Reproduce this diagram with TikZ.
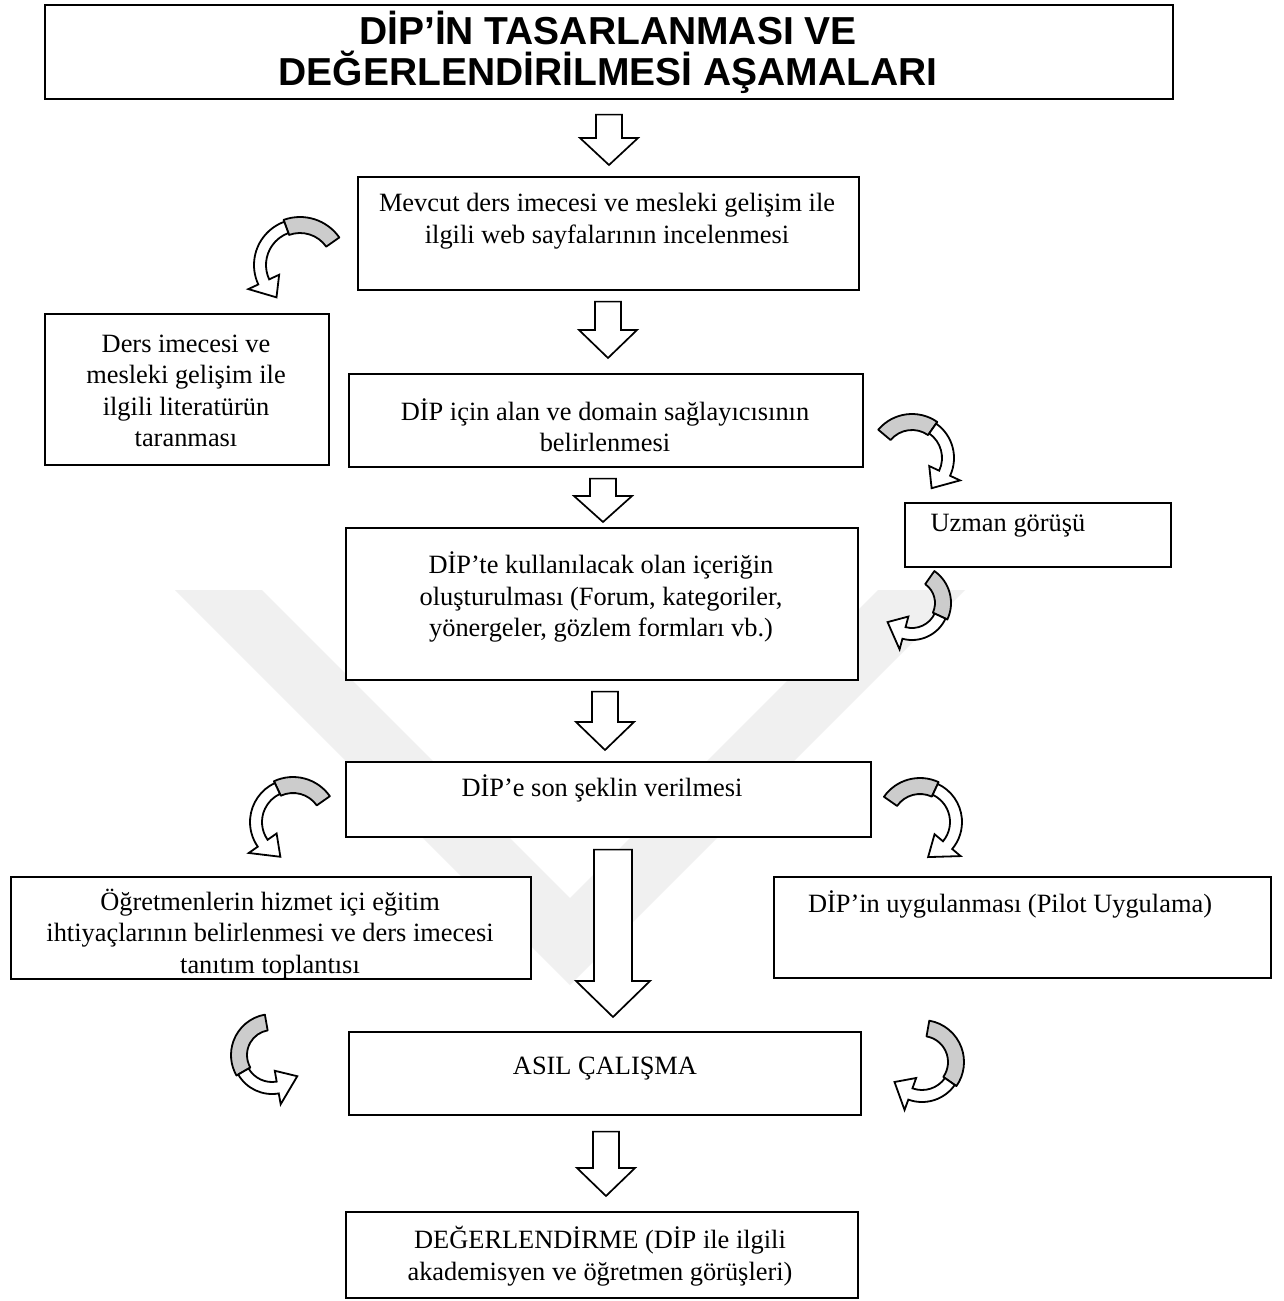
\documentclass[tikz,border=0pt]{standalone}
\usepackage{fontspec}
\setmainfont{Liberation Serif}
\newfontfamily\titlefont{Liberation Sans}
\usetikzlibrary{calc}
\tikzset{
  box/.style={draw, fill=white, line width=1.6pt, inner sep=0pt, anchor=north west},
  txt/.style={align=center, font=\fontsize{26.4}{31.5}\selectfont, inner sep=0pt},
  ttl/.style={align=center, font=\titlefont\bfseries\fontsize{39}{41}\selectfont, inner sep=0pt},
  blockarr/.style={draw, fill=white, line width=1.7pt, line join=miter},
  cgrey/.style={draw, fill=gray!40, line width=1.8pt, line join=round},
  cwhite/.style={draw, fill=white, line width=1.8pt, line join=miter},
  wmark/.style={fill=black!6},
}
% block arrow: from node, to node, x, gap top, gap bottom, shaft half width, head half width, head length
\newcommand{\barrow}[8]{%
  \draw[blockarr] let \p1=(#1.south), \p2=(#2.north) in
    ({(#3-#6)*1pt},{\y1-#4pt}) -- ({(#3+#6)*1pt},{\y1-#4pt}) --
    ({(#3+#6)*1pt},{\y2+#5pt+#8pt}) -- ({(#3+#7)*1pt},{\y2+#5pt+#8pt}) --
    ({#3*1pt},{\y2+#5pt}) --
    ({(#3-#7)*1pt},{\y2+#5pt+#8pt}) -- ({(#3-#6)*1pt},{\y2+#5pt+#8pt}) -- cycle;}
% curved arrow: cx, cy (down), r, a1 (tail), am (grey end), ah (head base), a2 (tip)
\newcommand{\carr}[7]{%
  \begin{scope}[shift={(#1,-#2)}]
    \draw[cgrey] (#4:{#3+8}) arc[start angle=#4,end angle=#5,radius={#3+8}] --
      (#5:{#3-8}) arc[start angle=#5,end angle=#4,radius={#3-8}] -- cycle;
    \draw[cwhite] (#5:{#3+6}) arc[start angle=#5,end angle=#6,radius={#3+6}] --
      (#6:{#3+17}) -- (#7:{#3}) -- (#6:{#3-17}) --
      (#6:{#3-6}) arc[start angle=#6,end angle=#5,radius={#3-6}] -- cycle;
  \end{scope}}
\begin{document}
\begin{tikzpicture}[x=1pt,y=1pt]
\useasboundingbox (0,0) rectangle (1284,-1301);
\fill[white] (0,0) rectangle (1284,-1301);

% faint watermark
\fill[wmark] (175,-590) -- (262,-590) -- (570,-898) -- (878,-590) -- (965,-590) -- (570,-985) -- cycle;

% boxes
\node[box, minimum width=1128pt, minimum height=94pt]  (title) at (44,-4) {};
\node[box, minimum width=501pt, minimum height=113pt]  (b1) at (357,-176) {};
\node[box, minimum width=284pt, minimum height=151pt]  (lit) at (44,-313) {};
\node[box, minimum width=514pt, minimum height=93pt]   (b2) at (348,-373) {};
\node[box, minimum width=266pt, minimum height=64pt]   (uz) at (904,-502) {};
\node[box, minimum width=512pt, minimum height=152pt]  (b3) at (345,-527) {};
\node[box, minimum width=525pt, minimum height=75pt]   (b4) at (345,-761) {};
\node[box, minimum width=520pt, minimum height=102pt]  (ogr) at (10,-876) {};
\node[box, minimum width=497pt, minimum height=101pt]  (pil) at (773,-876) {};
\node[box, minimum width=512pt, minimum height=83pt]   (asil) at (348,-1031) {};
\node[box, minimum width=512pt, minimum height=86pt]   (deg) at (345,-1211) {};

% texts
\node[ttl] (tt) at (608,-52) {DİP’İN TASARLANMASI VE\\DEĞERLENDİRİLMESİ AŞAMALARI};
\node[txt] (t1) at (607,-221) {Mevcut ders imecesi ve mesleki gelişim ile\\ilgili web sayfalarının incelenmesi};
\node[txt] (tlit) at (186,-391) {Ders imecesi ve\\mesleki gelişim ile\\ilgili literatürün\\taranması};
\node[txt] (t2) at (605,-425) {DİP için alan ve domain sağlayıcısının\\belirlenmesi};
\node[txt] (tuz) at (1008,-526) {Uzman görüşü};
\node[txt] (t3) at (601,-597) {DİP’te kullanılacak olan içeriğin\\oluşturulması (Forum, kategoriler,\\yönergeler, gözlem formları vb.)};
\node[txt] (t4) at (602,-788) {DİP’e son şeklin verilmesi};
\node[txt] (togr) at (270,-934) {Öğretmenlerin hizmet içi eğitim\\ihtiyaçlarının belirlenmesi ve ders imecesi\\tanıtım toplantısı};
\node[txt] (tpil) at (1010,-904) {DİP’in uygulanması (Pilot Uygulama)};
\node[txt] (tasil) at (605,-1069) {ASIL ÇALIŞMA};
\node[txt] (tdeg) at (600,-1256) {DEĞERLENDİRME (DİP ile ilgili\\akademisyen ve öğretmen görüşleri)};

% block arrows
\barrow{title}{b1}{609}{15}{11}{13}{29}{27}
\barrow{b1}{b2}{608}{11}{15}{13}{29}{28}
\barrow{b2}{b3}{603}{11}{5}{13}{29}{26}
\barrow{b3}{b4}{605}{11}{11}{13}{29}{28}
\barrow{b4}{asil}{613}{12}{14}{19}{37}{36}
\barrow{asil}{deg}{606}{16}{15}{13}{29}{28}

% curved arrows
\carr{300}{265}{40}{35}{110}{205}{234}
\carr{912}{458}{36}{140}{55}{-25}{-57}
\carr{912}{603}{31}{55}{-25}{-105}{-142}
\carr{293}{822}{37}{35}{115}{215}{250}
\carr{920}{822}{36}{145}{65}{-40}{-77}
\carr{272}{1055}{33}{100}{210}{280}{320}
\carr{922}{1062}{34}{80}{-35}{-110}{-144}
\end{tikzpicture}
\end{document}
